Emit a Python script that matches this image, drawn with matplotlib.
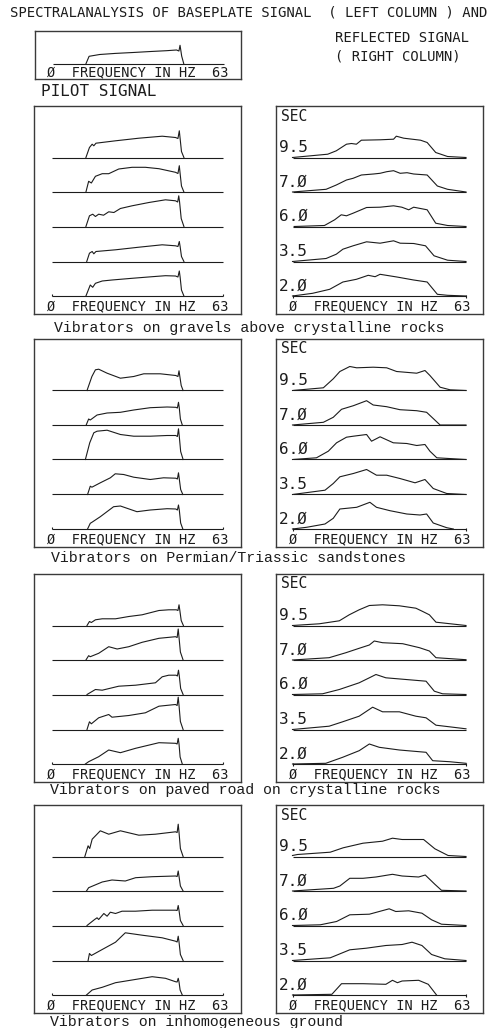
import matplotlib
matplotlib.use("Agg")
import matplotlib.pyplot as plt

# ---------------- data (frequency in Hz, amplitude in plot units) ----------------
delay_labels = ["9.5", "7.Ø", "6.Ø", "3.5", "2.Ø"]
captions = [
    "Vibrators on gravels above crystalline rocks",
    "Vibrators on Permian/Triassic sandstones",
    "Vibrators on paved road on crystalline rocks",
    "Vibrators on inhomogeneous ground",
]

pilot_f = [12.1, 13.3, 17.2, 23, 29.5, 36, 41.8, 45.5, 46.4, 46.8, 47.1, 47.4, 48.2]
pilot_a = [0, 7.7, 9.5, 10.6, 11.5, 12.5, 13.3, 14.0, 13.0, 18.7, 13.5, 8, 0]

# group 1: gravels above crystalline rocks
g1_left_f = [
    [12.5, 13.8, 14.8, 15.4, 16.2, 23.4, 32, 40.6, 45.5, 46.4, 46.9, 47.2, 47.7, 48.6],
    [12.5, 13.5, 14.5, 16, 18.5, 20.9, 24.6, 29.5, 34.4, 39.4, 45.5, 46.4, 46.9, 47.2, 47.7, 48.6],
    [12.5, 13.8, 15, 16, 17.2, 19, 20.9, 22.8, 25.2, 29.5, 35.7, 41.8, 45.5, 46.3, 46.7, 47.0, 47.6, 48.6],
    [12.8, 13.8, 14.8, 15.4, 16.2, 23.4, 32, 40.6, 45.5, 46.4, 46.9, 47.2, 47.7, 48.6],
    [12.5, 14.1, 15, 16, 18.5, 22.1, 29.5, 36.9, 41.8, 45.5, 46.4, 46.9, 47.2, 47.7, 48.6],
]
g1_left_a = [
    [0, 10, 13.3, 11.7, 14.3, 16.7, 19.3, 21.3, 20, 19, 26.7, 19, 6, 0],
    [0, 10.7, 9, 15.7, 18.3, 18.3, 23, 24.7, 24.7, 23.3, 19.7, 18.5, 26.3, 18.5, 6, 0],
    [0, 10.7, 12.3, 10, 12.3, 11.3, 14.7, 14, 18, 20.7, 24, 26.7, 25.7, 24.5, 30.7, 24.5, 8, 0],
    [0, 8.3, 10, 7.7, 10, 11.7, 14.3, 16.7, 15.7, 15, 20, 15, 5, 0],
    [0, 11, 8.7, 12.7, 15, 16, 17.7, 19.3, 20.3, 20, 19, 25, 19, 6, 0],
]
g1_right_f = [
    [0, 12.8, 15.9, 19.6, 21.4, 23.2, 25, 31.8, 36.7, 37.7, 40.4, 46.5, 48.9, 52, 56.3, 63],
    [0, 12.2, 15.9, 19.6, 22, 25, 29.4, 31.8, 34.2, 36.7, 39.1, 41.6, 44, 48.9, 52.6, 56.3, 63],
    [0.6, 11.6, 15.3, 17.7, 19.6, 22, 26.9, 31.8, 36.7, 39.7, 42.2, 44, 48.9, 52, 56.3, 63],
    [0, 12.2, 15.9, 18.3, 22, 26.9, 31.8, 36.7, 39.1, 44, 48.3, 51.4, 56.3, 63],
    [0, 7.3, 13.5, 18.3, 23.2, 27.5, 30, 31.8, 37.9, 44, 48.9, 52.6, 56.3, 63],
]
g1_right_a = [
    [0, 3.3, 6.7, 13.3, 14, 13.3, 17.3, 17.7, 18.3, 21.3, 19.3, 17.3, 15, 5, 1, 0],
    [0, 2.7, 7, 12, 13.7, 17, 18, 18.7, 20.3, 21.3, 18.7, 19.3, 18, 17, 6, 2.7, 0],
    [0, 1, 6.7, 11.7, 10.7, 13.3, 19, 19.3, 20.7, 19.3, 16.7, 19.3, 16.7, 3.3, 1, 0],
    [0, 3, 7.3, 12.3, 15.7, 19.7, 18.3, 20.7, 18.3, 18, 15.7, 5.7, 1.3, 0],
    [0, 2.7, 6.7, 14, 16.7, 20.7, 19.3, 21.7, 19, 16, 14, 1.7, 0.7, 0],
]

# group 2: Permian/Triassic sandstones
g2_left_f = [
    [12.9, 14.7, 16, 17.2, 20.3, 25.2, 30.1, 33.8, 39.9, 45.6, 46.4, 46.8, 47.1, 47.6, 48.3],
    [12.6, 13.5, 14.1, 16.6, 20.3, 25.2, 30.1, 36.2, 42.4, 45.6, 46.2, 46.6, 46.9, 47.3, 48.0],
    [12.3, 13.9, 15.4, 16.6, 20.3, 25.2, 30.1, 36.2, 42.4, 45.6, 46.2, 46.6, 46.9, 47.4, 48.3],
    [13.1, 14.1, 14.7, 17.8, 21.5, 23.3, 26.4, 30.1, 36.2, 41.1, 45.6, 46.2, 46.6, 46.9, 47.4, 48.2],
    [13.1, 14.1, 14.7, 17.8, 22.7, 25.2, 31.3, 36.2, 42.4, 45.6, 46.2, 46.6, 46.9, 47.4, 48.2],
]
g2_left_a = [
    [0, 14, 20.7, 21.3, 17.3, 12.3, 14, 16.7, 16.7, 15, 14, 19.7, 14, 5, 0],
    [0, 6, 5, 10, 12, 12.7, 15, 17.3, 18, 17.7, 17, 22.7, 17, 6, 0],
    [0, 16.7, 26.7, 28.3, 29.3, 25, 23.3, 23.3, 24, 24, 23, 30.7, 23, 8, 0],
    [0, 8.3, 7.3, 11.7, 16.7, 20.7, 20, 17.3, 15, 16.7, 16.3, 15.5, 21.7, 15.5, 5, 0],
    [0, 5.7, 6.7, 12.3, 22.3, 23, 17.3, 19, 20.3, 20, 19, 24, 19, 6, 0],
]
g2_right_f = [
    [0, 11.2, 14.8, 17.2, 20.8, 23.3, 29.3, 34.2, 37.8, 45.1, 48.1, 49.9, 53.6, 57.2, 63],
    [0, 11.2, 14.8, 17.8, 22.1, 26.9, 29.3, 34.2, 39, 45.1, 48.7, 53.6, 63],
    [0, 8.7, 13, 16, 19.6, 22.1, 26.9, 28.7, 31.8, 36.6, 41.5, 45.1, 48.1, 49.9, 52.4, 63],
    [0, 11.8, 14.8, 17.2, 22.1, 26.9, 30.5, 34.2, 39, 44.5, 48.1, 51.1, 56, 63],
    [0, 5.1, 11.8, 14.8, 17.2, 23.3, 28.1, 30.5, 35.4, 41.5, 46.3, 48.7, 51.1, 56, 58.4],
]
g2_right_a = [
    [0, 2.7, 11.7, 19, 24, 22.7, 23.3, 22.7, 19, 17.3, 20, 15, 3.3, 0.7, 0],
    [0, 2.7, 7.7, 15.7, 19.3, 24.3, 20, 18.3, 15.3, 14.3, 12.7, 0, 0],
    [0, 1.7, 8.3, 16.7, 22.3, 23.3, 25, 18.3, 22.7, 16.7, 16, 14, 15, 8.3, 1.7, 0],
    [0, 4.3, 11, 17.7, 21, 25, 19.3, 19.3, 16, 11.7, 15, 6, 1, 0],
    [0, 1.7, 5, 10.7, 20, 21.7, 26.7, 21.7, 18.3, 15, 14, 15, 6, 1.3, 0],
]

# group 3: paved road on crystalline rocks
g3_left_f = [
    [12.9, 13.8, 14.5, 16, 18.5, 23.4, 28.3, 33.2, 39.4, 43, 45.8, 46.4, 46.8, 47.1, 47.6, 48.4],
    [12.5, 13.5, 14.1, 17.2, 20.9, 24, 28.3, 33.2, 39.4, 45.5, 46.1, 46.5, 46.8, 47.3, 48.3],
    [12.9, 16, 18.5, 24.6, 30.8, 38.1, 40.6, 43, 45.7, 46.2, 46.6, 46.9, 47.4, 48.3],
    [12.9, 13.8, 14.5, 17.2, 20.9, 22.1, 28.3, 34.4, 39.4, 45.5, 46.1, 46.5, 46.8, 47.3, 48.3],
    [12.3, 13.5, 17.2, 20.9, 25.2, 30.8, 39.4, 45.5, 46.1, 46.5, 46.8, 47.2, 48.0],
]
g3_left_a = [
    [0, 4, 3, 5.7, 6.7, 6.7, 9, 10.7, 15, 15.7, 15.7, 15, 20.7, 15, 5, 0],
    [0, 4.3, 3.3, 6.7, 13.3, 11, 13.3, 17.7, 21.7, 23.3, 22.5, 31, 22.5, 8, 0],
    [0, 5, 4.3, 8.3, 9.3, 11.7, 17.7, 19.3, 19.3, 18.5, 24.3, 18.5, 6, 0],
    [0, 7.7, 5.7, 11.7, 15, 12.3, 14, 16.7, 23.3, 25, 24, 32.3, 24, 8, 0],
    [0, 2.3, 7.3, 14, 11.3, 15.7, 21.3, 20.7, 20, 25.7, 20, 7, 0],
]
g3_right_f = [
    [0, 9.7, 17, 20.6, 24.2, 27.9, 32.7, 38.8, 44.8, 47.3, 49.7, 52.1, 63],
    [0, 13.3, 19.4, 24.2, 27.9, 29.7, 32.7, 40, 46.1, 49.7, 52.1, 63],
    [0, 10.9, 17, 24.2, 27.9, 30.3, 33.9, 41.2, 48.5, 51.5, 54.5, 63],
    [0, 13.3, 18.2, 24.2, 29.1, 32.7, 38.8, 44.8, 48.5, 52.1, 57, 63],
    [0, 12.1, 18.2, 24.2, 27.9, 31.5, 38.8, 48.5, 50.9, 57, 63],
]
g3_right_a = [
    [0, 1.7, 4.7, 10.7, 15.7, 20, 20.7, 19.7, 17.3, 14, 10.7, 3.3, 0],
    [0, 2.3, 7.3, 11.7, 15, 19, 17.3, 16.3, 12.3, 9, 2.3, 0.3],
    [0, 0.7, 5, 11.7, 16.7, 20, 16.7, 15, 13.3, 3.3, 0.7, 0],
    [0, 3.3, 7.7, 13.3, 22.3, 17.7, 17.7, 13.3, 11.7, 4.3, 2.7, 0.7],
    [0, 0.7, 6.7, 13.3, 20, 16.7, 14, 11.7, 3.3, 2.3, 0.7],
]

# group 4: inhomogeneous ground
g4_left_f = [
    [12.1, 13.3, 13.9, 14.8, 17.8, 20.9, 25.2, 32, 38.1, 45.5, 46.1, 46.5, 46.8, 47.3, 48.3],
    [12.7, 13.5, 18.5, 22.1, 27, 30.8, 36.9, 45.5, 46.1, 46.5, 46.8, 47.3, 48.3],
    [12.9, 15.7, 16.6, 17.2, 19.1, 20.3, 21.5, 23.4, 25.8, 30.8, 36.9, 45.5, 46.1, 46.5, 46.8, 47.3, 48.3],
    [13.3, 13.8, 14.5, 18.5, 23.4, 27, 33.2, 40.6, 45.5, 46.1, 46.5, 46.8, 47.3, 48.3],
    [12.7, 14.8, 18.5, 23.4, 29.5, 36.9, 41.8, 45.5, 46.1, 46.5, 46.8, 47.2, 48.0],
]
g4_left_a = [
    [0, 10.7, 8, 17.3, 25.7, 22.3, 25.7, 21.3, 22.3, 24.7, 24, 32.3, 24, 8, 0],
    [0, 3.3, 9, 11, 10, 13.3, 14.3, 15, 14.5, 20, 14.5, 5, 0],
    [0, 6, 7.7, 6, 12, 9.3, 13.3, 12, 14.3, 14.3, 15.3, 15.3, 15, 20, 15, 5, 0],
    [0, 7, 5, 11, 18.3, 27.7, 25.3, 22.7, 19.3, 18.5, 24.3, 18.5, 6, 0],
    [0, 5, 7.7, 12.3, 15, 18.3, 16.7, 13.3, 13, 16.7, 13, 5, 0],
]
g4_right_f = [
    [0, 1.8, 13.7, 18.4, 25.6, 32.7, 36.3, 39.8, 47.6, 51.7, 56.5, 63],
    [0, 14.9, 17.2, 20.8, 25.6, 30.3, 36.3, 39.8, 45.8, 48.2, 51.7, 54.1, 63],
    [0, 10.1, 16, 20.8, 27.9, 35.1, 37.5, 42.2, 47, 50.5, 54.1, 63],
    [0, 13.7, 20.8, 26.8, 33.9, 39.8, 43.4, 47, 50.5, 55.3, 63],
    [0, 14.3, 17.8, 25.6, 33.9, 36.3, 38.1, 39.8, 45.8, 49.3, 52.3],
]
g4_right_a = [
    [1, 2, 4.3, 8.7, 13.3, 15.3, 18.3, 17, 17, 7.7, 1, 0],
    [0, 2.7, 5, 12.7, 12.7, 14, 16.7, 15, 14, 16, 6.7, 0.7, 0],
    [0, 0.7, 4, 10.7, 11.3, 16.7, 14, 14.7, 12.3, 5.7, 1.3, 0],
    [0, 2.7, 10.7, 12.3, 15, 16, 18.3, 15, 6, 1.7, 0],
    [0, 0.7, 11.3, 11.3, 10.7, 14.7, 12.3, 14, 14.7, 10.7, 0],
]

groups = [
    (g1_left_f, g1_left_a, g1_right_f, g1_right_a),
    (g2_left_f, g2_left_a, g2_right_f, g2_right_a),
    (g3_left_f, g3_left_a, g3_right_f, g3_right_a),
    (g4_left_f, g4_left_a, g4_right_f, g4_right_a),
]

# ---------------- layout (pixels) ----------------
W, H = 498, 1028
ink = "#1c1c1c"
frame = "#3a3a3a"
plotter = "DejaVu Sans Mono"
typewriter = "Liberation Mono"

group_top = [106, 339, 574, 805]
caption_y = [328, 558, 790, 1022]
caption_x = [54, 51, 50, 50]
box_h = 208
box_w = 207
left_x, right_x = 34, 276
base_rel = [51.5, 86, 120.5, 155.5, 190]

fig = plt.figure(figsize=(W / 100, H / 100), dpi=100)
fig.patch.set_facecolor("white")


def ftext(x, y, s, **kw):
    fig.text(x / W, 1 - y / H, s, va="center", color=ink, **kw)


def make_box(x0, y0, w, h, bx0, bx1):
    ax = fig.add_axes([x0 / W, 1 - (y0 + h) / H, w / W, h / H])
    hz = (bx1 - bx0) / 63
    ax.set_xlim(-bx0 / hz, (w - bx0) / hz)
    ax.set_ylim(0, h)
    ax.set_xticks([])
    ax.set_yticks([])
    for sp in ax.spines.values():
        sp.set_linewidth(1.0)
        sp.set_color(frame)
    return ax


def freq_label(ax, w, h, yrel):
    ax.text(0.5, 1 - yrel / h, "Ø  FREQUENCY IN HZ  63", transform=ax.transAxes,
            ha="center", va="center", fontsize=9.8, family=plotter, color=ink)


def draw_traces(ax, h, fs, amps, right):
    for i, (f, a) in enumerate(zip(fs, amps)):
        base = h - base_rel[i]
        ax.hlines(base, 0, 63, color=ink, lw=0.8)
        ax.plot(f, [base + v for v in a], color=ink, lw=0.8)
    base = h - base_rel[-1]
    if right:
        ax.vlines([0, 63], base - 1.5, base + 1.5, color=ink, lw=0.8)
    else:
        ax.vlines([0, 63], base, base + 2.5, color=ink, lw=0.8)


# header
ftext(10, 12, "SPECTRALANALYSIS OF BASEPLATE SIGNAL  ( LEFT COLUMN ) AND",
      fontsize=10.0, family=plotter)
ftext(335, 38, "REFLECTED SIGNAL", fontsize=10.0, family=plotter)
ftext(335, 56, "( RIGHT COLUMN)", fontsize=10.0, family=plotter)

# pilot signal
pil = make_box(35, 31, 206, 48, 18, 189)
pil.hlines(48 - 33, 0, 63, color=ink, lw=0.8)
pil.plot(pilot_f, [48 - 33 + v for v in pilot_a], color=ink, lw=0.8)
freq_label(pil, 206, 48, 41.5)
ftext(41, 92, "PILOT SIGNAL", fontsize=11.5, family=plotter)

for g, (lf, la, rf, ra) in enumerate(groups):
    top = group_top[g]
    axl = make_box(left_x, top, box_w, box_h, 18, 189)
    draw_traces(axl, box_h, lf, la, right=False)
    freq_label(axl, box_w, box_h, 200)

    axr = make_box(right_x, top, box_w, box_h, 16.5, 190)
    draw_traces(axr, box_h, rf, ra, right=True)
    freq_label(axr, box_w, box_h, 200)
    axr.text(5 / box_w, 1 - 10 / box_h, "SEC", transform=axr.transAxes,
             ha="left", va="center", fontsize=10.5, family=plotter, color=ink)
    for i, lab in enumerate(delay_labels):
        axr.text(3 / box_w, 1 - (base_rel[i] - 10) / box_h, lab, transform=axr.transAxes,
                 ha="left", va="center", fontsize=11.5, family=plotter, color=ink)

    ftext(caption_x[g], caption_y[g], captions[g], fontsize=10.7, family=typewriter)

fig.savefig("out.png", dpi=100, facecolor="white")
